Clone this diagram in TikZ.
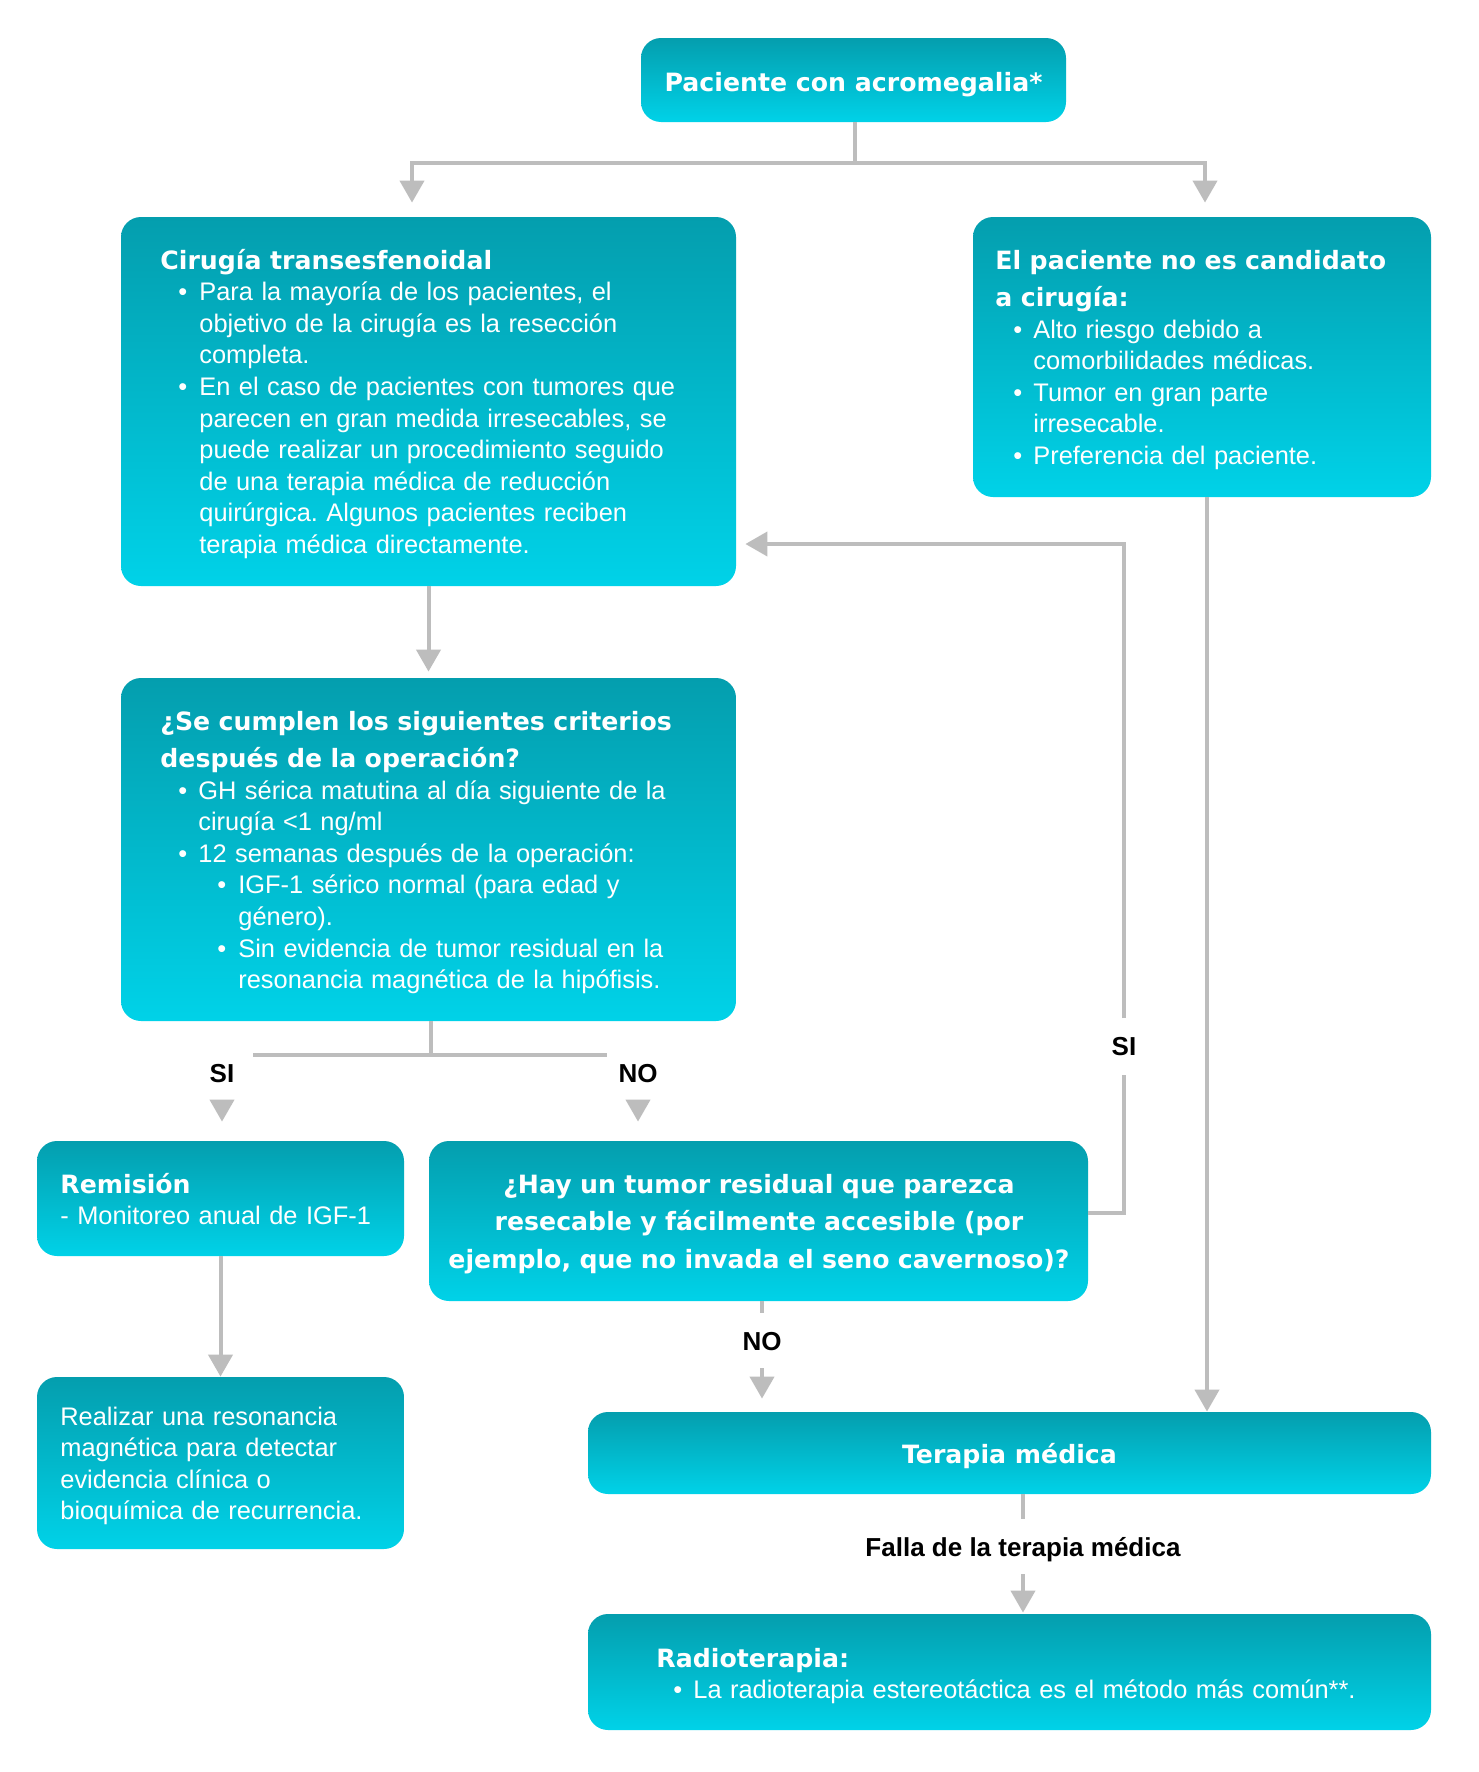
\documentclass[tikz,border=0pt]{standalone}
\usepackage{fontspec}
\setmainfont{Liberation Sans}
\newfontfamily\tfont{DejaVu Sans}
\usetikzlibrary{arrows.meta,fit}
\definecolor{boxtop}{RGB}{4,158,174}
\definecolor{boxbot}{RGB}{0,210,232}
\definecolor{conn}{RGB}{189,189,189}
\frenchspacing
\newcommand\bodyf{\fontsize{12.7pt}{15.8pt}\selectfont\frenchspacing}
\newcommand\ttlf{\tfont\bfseries\fontsize{12.6pt}{18.75pt}\selectfont\frenchspacing}
\newcommand\lblf{\bfseries\fontsize{13pt}{15.6pt}\selectfont}
\newcommand\bitem[3]{\par\hangindent=#2\hangafter=1\noindent\hspace*{#1}\makebox[\dimexpr#2-#1\relax][l]{•}#3\par}
\tikzset{
  box/.style={rounded corners=10pt, top color=boxtop, bottom color=boxbot, draw=none, inner sep=0pt},
  txt/.style={anchor=base west, inner sep=0pt, text=white, align=left, text width=#1, font=\bodyf},
  ctxt/.style={anchor=base, inner sep=0pt, text=white, align=center, font=\ttlf},
  lbl/.style={inner sep=0pt, font=\lblf, text=black, anchor=base},
  line/.style={draw=conn, line width=2pt},
  arr/.style={line, -{Triangle[width=12pt,length=11pt]}},
}
\begin{document}
\begin{tikzpicture}[x=0.5pt,y=-0.5pt]
\useasboundingbox[fill=white] (0,0) rectangle (1478,1772);

% boxes
\node[box, fit={(641,38)(1066,122)}] (top) {};
\node[box, fit={(121,217)(736,586)}] (cir) {};
\node[box, fit={(973,217)(1431,497)}] (nocand) {};
\node[box, fit={(121,678)(736,1021)}] (crit) {};
\node[box, fit={(37,1141)(404,1256)}] (rem) {};
\node[box, fit={(429,1141)(1088,1301)}] (hay) {};
\node[box, fit={(37,1377)(404,1549)}] (real) {};
\node[box, fit={(588,1412)(1431,1494)}] (ter) {};
\node[box, fit={(588,1614)(1431,1730)}] (rad) {};

% texts
\node[ctxt] (topT) at (853.5,91) {Paciente con acromegalia*};
\node[ctxt] (terT) at (1009.5,1463) {Terapia médica};

\node[txt=300pt] (cirT) at (160,269) {{\ttlf Cirugía transesfenoidal\par}%
\bitem{9pt}{19.5pt}{Para la mayoría de los pacientes, el\newline objetivo de la cirugía es la resección\newline completa.}%
\bitem{9pt}{19.5pt}{En el caso de pacientes con tumores que\newline parecen en gran medida irresecables, se\newline puede realizar un procedimiento seguido\newline de una terapia médica de reducción\newline quirúrgica. Algunos pacientes reciben\newline terapia médica directamente.}};

\node[txt=225pt] (nocT) at (995,269) {{\ttlf El paciente no es candidato\\ a cirugía:\par}%
\bitem{9pt}{19pt}{Alto riesgo debido a\newline comorbilidades médicas.}%
\bitem{9pt}{19pt}{Tumor en gran parte\newline irresecable.}%
\bitem{9pt}{19pt}{Preferencia del paciente.}};

\node[txt=300pt] (critT) at (160,730) {{\ttlf ¿Se cumplen los siguientes criterios\\ después de la operación?\par}%
\bitem{9pt}{19pt}{GH sérica matutina al día siguiente de la\newline cirugía <1 ng/ml}%
\bitem{9pt}{19pt}{12 semanas después de la operación:}%
\bitem{28.5pt}{39pt}{IGF-1 sérico normal (para edad y\newline género).}%
\bitem{28.5pt}{39pt}{Sin evidencia de tumor residual en la\newline resonancia magnética de la hipófisis.}};

\node[txt=180pt] (remT) at (60,1193) {{\ttlf Remisión\par}%
- Monitoreo anual de IGF-1};

\node[ctxt, text width=360pt] (hayT) at (759,1193)
  {¿Hay un tumor residual que parezca\\ resecable y fácilmente accesible (por\\ ejemplo, que no invada el seno cavernoso)?};

\node[txt=180pt] (realT) at (60,1425) {Realizar una resonancia\\ magnética para detectar\\ evidencia clínica o\\ bioquímica de recurrencia.};

\node[txt=400pt] (radT) at (656,1667) {{\ttlf Radioterapia:\par}%
\bitem{8.5pt}{18.5pt}{La radioterapia estereotáctica es el método más común**.}};

% labels
\node[lbl] (lsi) at (222,1082.5) {SI};
\node[lbl] (lno) at (638,1082.5) {NO};
\node[lbl] (lsi2) at (1124,1055.5) {SI};
\node[lbl] (lno2) at (762,1350) {NO};
\node[lbl] (lfal) at (1023,1556) {Falla de la terapia médica};

% coordinates
\coordinate (j1) at (855,163);
\coordinate (hl) at (412,0);
\coordinate (hr) at (1205,0);
\coordinate (j3) at (431,1055);
\coordinate (h3l) at (253,1055);
\coordinate (h3r) at (607,1055);
\coordinate (siA) at (222,1100);
\coordinate (noA) at (638,1100);
\coordinate (fb0) at (1088,1213);
\coordinate (fbB) at (1124,1075);
\coordinate (fbT) at (1124,1018);
\coordinate (fb1) at (0,544);
\coordinate (vx) at (1207,0);
\coordinate (n2a) at (762,1313);
\coordinate (n2b) at (762,1368);
\coordinate (f1) at (1023,1519);
\coordinate (f2) at (1023,1574);

% connectors
\draw[arr, shorten >=7pt] (top.south -| j1) -- (j1) -| (cir.north -| hl);
\draw[arr, shorten >=7pt] (top.south -| j1) -- (j1) -| (nocand.north -| hr);
\draw[arr, shorten >=3pt] (cir) -- (crit);
\draw[line] (crit.south -| j3) -- (j3);
\draw[line] (h3l) -- (h3r);
\draw[arr, shorten >=9.5pt] (siA) -- (siA |- rem.north);
\draw[arr, shorten >=9.5pt] (noA) -- (noA |- hay.north);
\draw[arr] (rem) -- (real);
\draw[line] (hay.east |- fb0) -| (fbB);
\draw[arr, shorten >=4.5pt] (fbT) |- (cir.east |- fb1);
\draw[arr] (nocand.south -| vx) -- (ter.north -| vx);
\draw[line] (hay.south -| n2a) -- (n2a);
\draw[arr, shorten >=6.5pt] (n2b) -- (n2b |- ter.north);
\draw[line] (ter.south -| f1) -- (f1);
\draw[arr, shorten >=0.5pt] (f2) -- (f2 |- rad.north);
\end{tikzpicture}
\end{document}
